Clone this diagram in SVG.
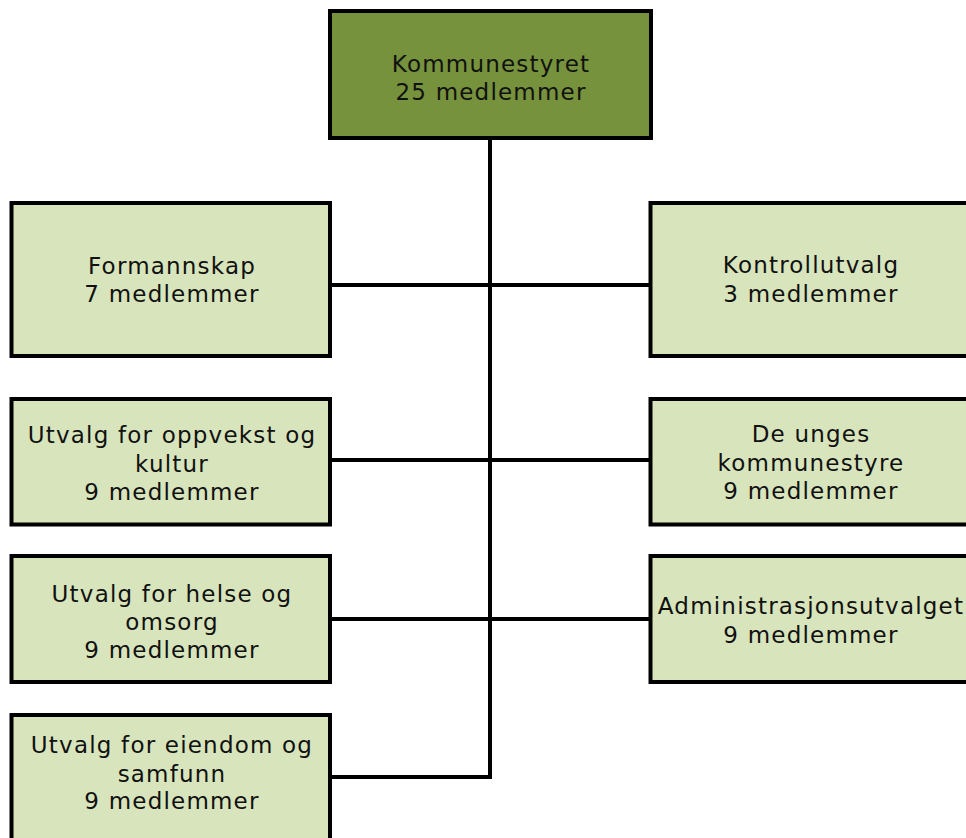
<svg xmlns="http://www.w3.org/2000/svg" width="966" height="838" viewBox="0 0 966 838">
<style>
.box{fill:#D7E4BC;stroke:#000;stroke-width:4}
.top{fill:#76923C;stroke:#000;stroke-width:4}
.t{font-family:"DejaVu Sans",Verdana,sans-serif;font-size:23px;letter-spacing:1.2px;fill:#111;text-anchor:middle}
.c{stroke:#000;stroke-width:4;fill:none}
</style>
<rect width="966" height="838" fill="#fff"/>
<g id="connectors">
<line class="c" x1="490" y1="138" x2="490" y2="779"/>
<line class="c" x1="330" y1="285" x2="651" y2="285"/>
<line class="c" x1="330" y1="460" x2="651" y2="460"/>
<line class="c" x1="330" y1="619" x2="651" y2="619"/>
<line class="c" x1="330" y1="777" x2="492" y2="777"/>
</g>
<g id="kommunestyret">
<rect class="top" x="330" y="11" width="321" height="127"/>
<text class="t" x="491" y="72">Kommunestyret</text>
<text class="t" x="491" y="100">25 medlemmer</text>
</g>
<g id="formannskap">
<rect class="box" x="11.5" y="203" width="318.5" height="153"/>
<text class="t" x="172" y="274">Formannskap</text>
<text class="t" x="172" y="302">7 medlemmer</text>
</g>
<g id="kontrollutvalg">
<rect class="box" x="650.5" y="203" width="320" height="153"/>
<text class="t" x="811" y="273">Kontrollutvalg</text>
<text class="t" x="811" y="302">3 medlemmer</text>
</g>
<g id="oppvekst">
<rect class="box" x="11.5" y="399" width="318.5" height="125.5"/>
<text class="t" x="172" y="443">Utvalg for oppvekst og</text>
<text class="t" x="172" y="472">kultur</text>
<text class="t" x="172" y="500">9 medlemmer</text>
</g>
<g id="unges">
<rect class="box" x="650.5" y="399" width="320" height="125.5"/>
<text class="t" x="811" y="442">De unges</text>
<text class="t" x="811" y="471">kommunestyre</text>
<text class="t" x="811" y="499">9 medlemmer</text>
</g>
<g id="helse">
<rect class="box" x="11.5" y="556" width="318.5" height="126"/>
<text class="t" x="172" y="602">Utvalg for helse og</text>
<text class="t" x="172" y="630">omsorg</text>
<text class="t" x="172" y="658">9 medlemmer</text>
</g>
<g id="administrasjon">
<rect class="box" x="650.5" y="556" width="320" height="126"/>
<text class="t" x="811" y="614">Administrasjonsutvalget</text>
<text class="t" x="811" y="643">9 medlemmer</text>
</g>
<g id="eiendom">
<rect class="box" x="11.5" y="715" width="318.5" height="126"/>
<text class="t" x="172" y="753">Utvalg for eiendom og</text>
<text class="t" x="172" y="782">samfunn</text>
<text class="t" x="172" y="809">9 medlemmer</text>
</g>
</svg>
